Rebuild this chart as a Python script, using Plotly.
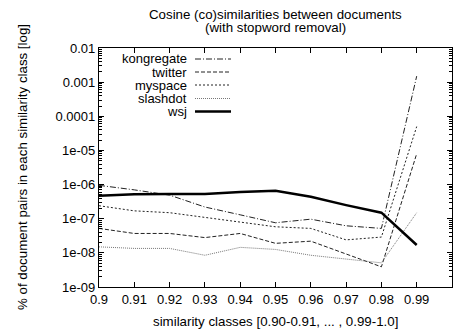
import plotly.graph_objects as go

# Similarity classes (lower bound of each 0.01-wide bin)
classes = [0.90, 0.91, 0.92, 0.93, 0.94, 0.95, 0.96, 0.97, 0.98, 0.99]

# Share of document pairs in each class, per corpus
kongregate = [9.5e-7, 7.0e-7, 4.9e-7, 2.2e-7, 1.3e-7, 7.6e-8, 9.7e-8, 6.2e-8, 5.2e-8, 1.5e-3]
twitter = [5.2e-8, 3.7e-8, 3.7e-8, 2.8e-8, 3.7e-8, 1.9e-8, 2.2e-8, 9.5e-9, 3.9e-9, 8.0e-6]
myspace = [2.4e-7, 1.7e-7, 1.5e-7, 1.1e-7, 8.1e-8, 5.8e-8, 5.2e-8, 2.4e-8, 2.9e-8, 5.0e-5]
slashdot = [1.5e-8, 1.35e-8, 1.35e-8, 8.5e-9, 1.45e-8, 1.26e-8, 8.5e-9, 6.5e-9, 5.1e-9, 1.5e-7]
wsj = [4.7e-7, 5.2e-7, 5.3e-7, 5.3e-7, 6.1e-7, 6.6e-7, 4.4e-7, 2.5e-7, 1.5e-7, 1.7e-8]

series_names = ["kongregate", "twitter", "myspace", "slashdot", "wsj"]
series_values = [kongregate, twitter, myspace, slashdot, wsj]

# The tick at 1.0 sits on the right frame; its label falls outside the page
x_ticks = [0.9, 0.91, 0.92, 0.93, 0.94, 0.95, 0.96, 0.97, 0.98, 0.99, 1.0]
x_tick_labels = ["0.9", "0.91", "0.92", "0.93", "0.94", "0.95", "0.96", "0.97", "0.98", "0.99", ""]
y_ticks = [1e-9, 1e-8, 1e-7, 1e-6, 1e-5, 1e-4, 1e-3, 1e-2]
y_tick_labels = ["1e-09", "1e-08", "1e-07", "1e-06", "1e-05", "0.0001", "0.001", "0.01"]

styles = {
    "kongregate": dict(color="#222222", width=1, dash="6px,2px,1px,2px"),
    "twitter": dict(color="#222222", width=1, dash="4px,2px"),
    "myspace": dict(color="#222222", width=1, dash="2px,2px"),
    "slashdot": dict(color="#777777", width=1, dash="1px,1px"),
    "wsj": dict(color="#000000", width=2.5),
}

FONT = "Liberation Sans, Arial, Helvetica, sans-serif"
TICK_SIZE = 13
TEXT_SIZE = 13.3

fig = go.Figure()
for name, vals in zip(series_names, series_values):
    fig.add_trace(go.Scatter(x=classes, y=vals, mode="lines", name=name,
                             line=styles[name], showlegend=False))

# Plot-area geometry in pixels (used to place the key and titles)
W, H = 453, 331
L, R, T, B = 99, 1, 48, 44
pw, ph = W - L - R, H - T - B

def px(x):
    return (x - L) / pw

def py(y):
    return (H - B - y) / ph

def text(s, x, y, size, **kw):
    fig.add_annotation(x=px(x), y=py(y), xref="paper", yref="paper", text=s,
                       showarrow=False, borderpad=0,
                       font=dict(family=FONT, size=size, color="#000000"), **kw)

# Key: right-aligned labels followed by line samples
key_rows = [59, 72, 85, 98.5, 111.5]
for name, yrow in zip(series_names, key_rows):
    text(name, 188, yrow, 13, xanchor="right", yanchor="middle")
    st = styles[name]
    fig.add_shape(type="line", xref="paper", yref="paper",
                  x0=px(195), x1=px(231), y0=py(yrow), y1=py(yrow),
                  line=dict(color=st["color"], width=st["width"], dash=st.get("dash", "solid")))

# Two-line heading, tightly spaced
text("Cosine (co)similarities between documents", 275, 14.5, TEXT_SIZE, xanchor="center", yanchor="middle")
text("(with stopword removal)", 275, 27.5, TEXT_SIZE, xanchor="center", yanchor="middle")

# Axis titles
text("similarity classes [0.90-0.91, ... , 0.99-1.0]", 275, 321.5, TEXT_SIZE, xanchor="center", yanchor="middle")
text("% of document pairs in each similarity class [log]", 22.5, 167.5, TEXT_SIZE,
     xanchor="center", yanchor="middle", textangle=-90)

axis_common = dict(
    showgrid=False, zeroline=False, showline=True, linecolor="#000000", linewidth=1.2,
    mirror="allticks", ticks="inside", ticklen=5, tickcolor="#000000", tickwidth=1,
    tickfont=dict(family=FONT, size=TICK_SIZE, color="#000000"), automargin=False,
)

fig.update_xaxes(range=[0.9, 1.0], tickvals=x_ticks, ticktext=x_tick_labels, **axis_common)
fig.update_yaxes(type="log", range=[-9, -2], tickvals=y_ticks, ticktext=y_tick_labels,
                 minor=dict(ticks="inside", ticklen=3, tickcolor="#000000", dtick="D1"),
                 **axis_common)

fig.update_layout(
    template="none",
    width=W, height=H,
    margin=dict(l=L, r=R, t=T, b=B, autoexpand=False),
    paper_bgcolor="#ffffff", plot_bgcolor="#ffffff",
    font=dict(family=FONT, size=TEXT_SIZE, color="#000000"),
)

fig.write_html("out.html")
